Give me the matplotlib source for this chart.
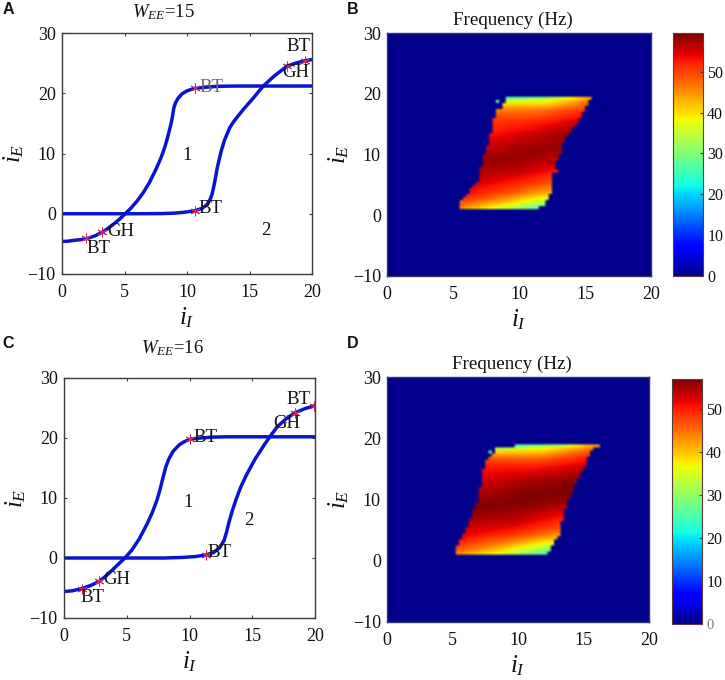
import numpy as np
import matplotlib
matplotlib.use('Agg')
import matplotlib.pyplot as plt
from matplotlib.colors import ListedColormap

plt.rcParams['font.family'] = ['Liberation Serif', 'DejaVu Serif']
plt.rcParams['mathtext.fontset'] = 'custom'
plt.rcParams['mathtext.rm'] = 'Liberation Serif'
plt.rcParams['mathtext.it'] = 'Liberation Serif:italic'
plt.rcParams['mathtext.bf'] = 'Liberation Serif:bold'

a1_x = [0, 0.5, 1, 1.5, 2, 2.6, 3.2, 3.7, 4.2, 4.6, 5, 5.5, 6, 6.5, 7, 7.5, 7.9, 8.2, 8.4, 8.6, 8.75, 8.85, 8.95, 9.1, 9.3, 9.6, 10, 10.6, 11.5, 12.4, 14, 16, 18, 20]
a1_y = [-4.6, -4.55, -4.4, -4.3, -4.1, -3.7, -3.1, -2.4, -1.6, -0.9, -0.1, 0.9, 2.1, 3.5, 5.2, 7.3, 9.2, 10.9, 12.3, 13.9, 15.2, 16.3, 17.6, 18.5, 19.2, 19.9, 20.4, 20.8, 21.0, 21.15, 21.2, 21.2, 21.2, 21.2]
a2_x = [0, 2, 4, 6, 8, 9, 9.8, 10.65, 11.2, 11.6, 11.85, 12, 12.15, 12.3, 12.4, 12.55, 12.75, 13, 13.4, 13.7, 14, 14.5, 15.3, 16.1, 17, 17.5, 18, 18.7, 19.4, 20]
a2_y = [0, 0, 0, 0, 0.03, 0.1, 0.25, 0.5, 0.9, 1.5, 2.4, 3.2, 4.6, 6.2, 7.4, 8.8, 10.5, 12.2, 14.2, 15.2, 16, 17.3, 19.2, 21.2, 22.9, 23.7, 24.5, 25, 25.4, 25.6]
c1_x = [0, 0.7, 1.4, 2.1, 2.8, 3.4, 4, 4.4, 4.85, 5.4, 6, 6.6, 7, 7.4, 7.65, 7.9, 8.1, 8.35, 8.7, 9.2, 9.6, 10.05, 10.8, 11.9, 13, 15, 17, 20]
c1_y = [-5.6, -5.45, -5.1, -4.6, -3.9, -2.9, -1.7, -0.9, 0, 1.3, 3.2, 5.6, 7.4, 9.6, 11.4, 13.5, 15.1, 16.5, 17.8, 18.9, 19.4, 19.8, 20, 20.15, 20.2, 20.2, 20.2, 20.2]
c2_x = [0, 3, 6, 8, 9.5, 10.5, 11.3, 11.9, 12.4, 12.75, 12.95, 13.15, 13.4, 13.75, 14.1, 14.5, 15.2, 16, 16.4, 17, 17.7, 18.4, 19.2, 20]
c2_y = [0, 0, 0, 0, 0.1, 0.25, 0.5, 0.9, 1.7, 2.9, 4.3, 6, 7.8, 10, 11.9, 13.7, 16.4, 19, 20.2, 21.9, 23.2, 24.2, 24.9, 25.4]

# Bifurcation points
a_pts_x = [1.9, 3.2, 10.65, 10.65, 18, 19.4]
a_pts_y = [-4.1, -3.1, 20.8, 0.5, 24.5, 25.4]
c_pts_x = [1.4, 2.8, 10.05, 11.3, 18.4, 19.9]
c_pts_y = [-5.1, -3.9, 19.8, 0.5, 24.2, 25.4]

# Frequency maps: iE rows, edges of the firing region, frequency at left / middle / right
b_rows = [1.25, 1.75, 2.25, 2.75, 3.25, 3.75, 4.25, 4.75, 5.25, 5.75, 6.25, 6.75, 7.25, 7.75, 8.25, 8.75, 9.25, 9.75, 10.25, 10.75, 11.25, 11.75, 12.25, 12.75, 13.25, 13.75, 14.25, 14.75, 15.25, 15.75, 16.25, 16.75, 17.25, 17.75, 18.25, 18.75, 19.25]
b_left = [5.6, 5.6, 5.75, 5.95, 6.1, 6.3, 6.45, 6.7, 6.9, 7.1, 7.15, 7.2, 7.2, 7.25, 7.3, 7.35, 7.4, 7.5, 7.55, 7.6, 7.7, 7.8, 7.9, 7.95, 8.0, 8.05, 8.05, 8.1, 8.15, 8.2, 8.3, 8.35, 8.45, 8.8, 9.0, 9.15, 9.2]
b_right = [11.4, 11.75, 11.9, 12.1, 12.2, 12.25, 12.25, 12.3, 12.3, 12.4, 12.4, 12.4, 12.8, 12.5, 12.6, 12.7, 12.8, 12.9, 13.0, 13.1, 13.1, 13.2, 13.3, 13.4, 13.6, 13.75, 13.9, 14.1, 14.25, 14.4, 14.5, 14.65, 14.8, 14.95, 15.1, 15.2, 15.4]
b_fl = [46, 48, 49, 51, 52, 53, 53.5, 54, 55, 55.5, 56, 56.5, 57, 57.5, 58, 58, 58, 57.5, 57, 56, 55.5, 55, 54.5, 54, 53, 52.5, 52, 51.5, 51, 50, 49.5, 48, 46, 44, 41, 37, 28]
b_fm = [37, 40, 43, 45, 47, 49, 50, 51, 52, 53, 54, 55, 56, 56.5, 57, 57.5, 58, 58, 58, 58, 57.5, 57, 56.5, 56, 55.5, 54.5, 53.5, 53, 52, 51, 49.5, 48, 47, 44.5, 41, 38, 33]
b_fr = [28, 31, 34, 37, 40, 43, 45, 47, 49, 50, 51, 52, 53, 54, 55, 56, 56, 57, 57, 58, 58, 58, 58, 58, 58, 57.5, 57, 56, 55, 54, 53, 52, 51, 49, 48, 46, 44]

d_rows = [1.25, 1.75, 2.25, 2.75, 3.25, 3.75, 4.25, 4.75, 5.25, 5.75, 6.25, 6.75, 7.25, 7.75, 8.25, 8.75, 9.25, 9.75, 10.25, 10.75, 11.25, 11.75, 12.25, 12.75, 13.25, 13.75, 14.25, 14.75, 15.25, 15.75, 16.25, 16.75, 17.25, 17.75, 18.25, 18.75]
d_left = [5.3, 5.4, 5.45, 5.55, 5.65, 5.8, 5.95, 6.1, 6.2, 6.3, 6.4, 6.5, 6.55, 6.65, 6.75, 6.85, 6.95, 7.05, 7.1, 7.15, 7.2, 7.25, 7.3, 7.35, 7.4, 7.45, 7.5, 7.5, 7.55, 7.6, 7.7, 7.95, 8.1, 8.3, 8.45, 10.0]
d_right = [12.0, 12.25, 12.45, 12.6, 12.7, 12.85, 13.0, 13.05, 13.15, 13.2, 13.2, 13.25, 13.3, 13.3, 13.4, 13.5, 13.6, 13.7, 13.8, 13.95, 14.0, 14.1, 14.2, 14.3, 14.4, 14.55, 14.65, 14.75, 14.85, 15.0, 15.1, 15.2, 15.35, 15.45, 15.6, 16.0]
d_fl = [44, 46, 47.5, 49, 50, 51, 52, 52.5, 53, 53.5, 54, 55, 55.5, 56, 56.5, 57, 56.5, 56, 55.5, 55, 54.5, 54, 53.5, 53, 52.5, 52, 51.5, 51, 50.5, 49.5, 48, 46, 43, 39, 33, 27]
d_fm = [36, 39, 41, 43, 45, 47, 48.5, 50, 51, 52, 53, 54, 54.5, 55, 55.5, 56, 56.5, 57, 57, 57, 56.5, 56, 55.5, 55, 54.5, 53.5, 52.5, 51.5, 50.5, 49, 47.5, 45.5, 43, 40, 37, 33]
d_fr = [26, 29, 32, 35, 38, 41, 43, 45, 47, 48, 49, 50, 51, 52, 53, 54, 55, 55.5, 56, 56.5, 57, 57, 57, 56.5, 56, 55.5, 54.5, 54, 53, 52, 51, 50, 48.5, 47, 45, 43]

# Isolated cell above the left edge of each map
b_spot = (8.5, 18.75, 27)
d_spot = (8.0, 17.75, 24)

b_vmax = 59.5
d_vmax = 57
x_ticks = [0, 5, 10, 15, 20]
y_ticks = [-10, 0, 10, 20, 30]
cbar_ticks = [0, 10, 20, 30, 40, 50]

W, H = 725, 680
fig = plt.figure(figsize=(W / 100, H / 100), dpi=100)
DARK = '#3c3c3c'
TXT = '#111111'

# MATLAB jet starts a bit brighter than matplotlib's
jet_colors = plt.cm.jet(np.linspace(0, 1, 256))
jet_colors[:29, 2] = np.linspace(0.55, 1, 29)
jet_m = ListedColormap(jet_colors)


def box(x0, y0, x1, y1):
    # pixel box (top-left origin) to figure fractions
    return [x0 / W, 1 - y1 / H, (x1 - x0) / W, (y1 - y0) / H]


def put(x, y, s, **kw):
    fig.text(x / W, 1 - y / H, s, ha='center', va='center', color=TXT, **kw)


def style_axes(ax, colour):
    ax.set_xlim(0, 20)
    ax.set_ylim(-10, 30)
    ax.set_xticks(x_ticks)
    ax.set_yticks(y_ticks)
    ax.tick_params(direction='in', top=True, right=True, length=2.5, width=0.8,
                   labelsize=13, color=DARK, labelcolor=TXT)
    ax.tick_params(axis='x', pad=7.5)
    ax.tick_params(axis='y', pad=4.5)
    for s in ax.spines.values():
        s.set_color(colour)
        s.set_linewidth(1.0)
    ax.set_xlabel('$i_I$', fontsize=18, color=TXT, labelpad=3)
    ax.set_ylabel('$i_E$', fontsize=18, color=TXT, labelpad=1)


def bif_panel(rect, cx1, cy1, cx2, cy2, px, py, labels):
    ax = fig.add_axes(box(*rect))
    style_axes(ax, DARK)
    ax.plot(cx1, cy1, color='#0a14d0', lw=2.5, solid_capstyle='butt')
    ax.plot(cx2, cy2, color='#0a14d0', lw=2.5, solid_capstyle='butt')
    ax.plot(px, py, ls='none', marker=(6, 2, 0), ms=7, mec='#d0285a', mew=0.7)
    for x, y, s, c in labels:
        ax.text(x, y, s, fontsize=13.5, color=c, ha='center', va='center')
    return ax


def freq_grid(rows, left, right, fl, fm, fr, spot):
    x_edges = np.arange(0, 20.25, 0.25)
    y_edges = np.arange(-10, 30.5, 0.5)
    xc = x_edges[:-1] + 0.125
    yc = y_edges[:-1] + 0.25
    z = np.zeros((len(yc), len(xc)))
    for k, y in enumerate(rows):
        j = np.argmin(abs(yc - y))
        mid = (left[k] + right[k]) / 2
        inside = (xc >= left[k] - 0.125) & (xc <= right[k] + 0.125)
        z[j, inside] = np.interp(xc[inside], [left[k], mid, right[k]], [fl[k], fm[k], fr[k]])
    z[np.argmin(abs(yc - spot[1])), np.argmin(abs(xc - spot[0]))] = spot[2]
    return z


def freq_panel(rect, cbar_rect, z, vmax):
    ax = fig.add_axes(box(*rect))
    m = ax.imshow(z, cmap=jet_m, vmin=0, vmax=vmax, origin='lower', extent=(0, 20, -10, 30),
                  aspect='auto', interpolation='bilinear', interpolation_stage='rgba')
    style_axes(ax, '#34346a')
    ax.tick_params(color='#000088')
    cax = fig.add_axes(box(*cbar_rect))
    cb = fig.colorbar(m, cax=cax)
    cb.set_ticks(cbar_ticks)
    cb.ax.tick_params(direction='in', length=2.5, width=0.8, labelsize=11.5, color=DARK, labelcolor=TXT, pad=3)
    cb.outline.set_edgecolor('#5a3a3a')
    cb.outline.set_linewidth(0.8)
    return ax, cb


# Panels A and C
bif_panel((62, 33, 312, 274), a1_x, a1_y, a2_x, a2_y, a_pts_x, a_pts_y, [
    (2.9, -5.8, 'BT', TXT), (4.7, -2.9, 'GH', TXT), (11.95, 21.0, 'BT', '#666666'),
    (11.9, 0.9, 'BT', TXT), (18.9, 27.8, 'BT', TXT), (18.7, 23.4, 'GH', TXT),
    (10, 9.7, '1', TXT), (16.3, -2.7, '2', TXT)])
bif_panel((64, 378, 315, 618), c1_x, c1_y, c2_x, c2_y, c_pts_x, c_pts_y, [
    (2.3, -6.6, 'BT', TXT), (4.2, -3.6, 'GH', TXT), (11.3, 20.0, 'BT', TXT),
    (12.4, 0.9, 'BT', TXT), (18.7, 26.4, 'BT', TXT), (17.75, 22.5, 'GH', TXT),
    (9.9, 9.3, '1', TXT), (14.7, 6.2, '2', TXT)])

# Panels B and D
b_grid = freq_grid(b_rows, b_left, b_right, b_fl, b_fm, b_fr, b_spot)
d_grid = freq_grid(d_rows, d_left, d_right, d_fl, d_fm, d_fr, d_spot)
freq_panel((387, 33, 651, 276), (673, 33, 703, 276), b_grid, b_vmax)
ax_d, cb_d = freq_panel((387, 377, 649, 622), (672, 379, 702, 624), d_grid, d_vmax)
zero_label = cb_d.ax.get_yticklabels()[0]
zero_label.set_fontsize(10.5)
zero_label.set_color('#777777')

# Titles and panel letters
put(163, 12, r'$W_{EE}$=15', fontsize=13.5)
put(172, 348, r'$W_{EE}$=16', fontsize=13.5)
put(513, 20, 'Frequency (Hz)', fontsize=13.7)
put(512, 364, 'Frequency (Hz)', fontsize=13.7)
for x, y, s in [(8, 10, 'A'), (353, 10, 'B'), (8, 344, 'C'), (353, 344, 'D')]:
    put(x, y, s, fontsize=11.5, fontweight='bold', family='Liberation Sans')

fig.savefig('out.png', dpi=100)
